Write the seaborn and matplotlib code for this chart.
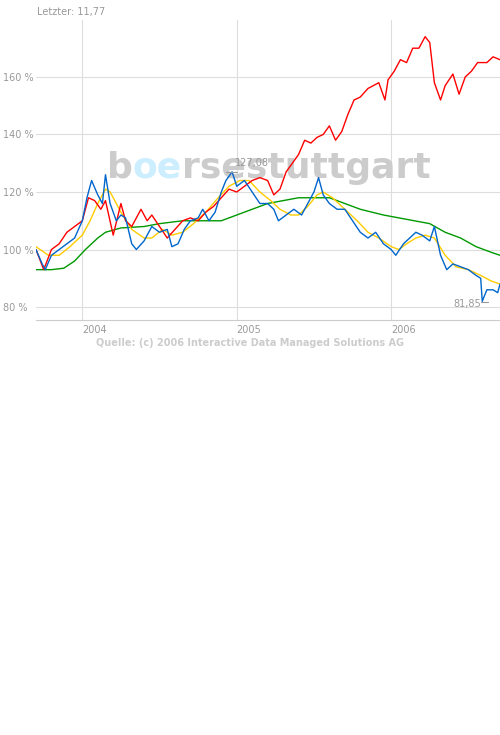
import numpy as np
import pandas as pd
import matplotlib
matplotlib.use("Agg")
import matplotlib.pyplot as plt
import seaborn as sns

blue_x = [2003.70, 2003.74, 2003.76, 2003.80, 2003.85, 2003.90, 2003.95, 2004.0, 2004.03, 2004.06,
          2004.10, 2004.13, 2004.15, 2004.18, 2004.22, 2004.25, 2004.28, 2004.32, 2004.35, 2004.40,
          2004.45, 2004.50, 2004.55, 2004.58, 2004.62, 2004.66, 2004.70, 2004.75, 2004.78, 2004.82,
          2004.86, 2004.90, 2004.93, 2004.97, 2005.00, 2005.05, 2005.10, 2005.15, 2005.20, 2005.24,
          2005.27, 2005.32, 2005.37, 2005.42, 2005.46, 2005.50, 2005.53, 2005.56, 2005.60, 2005.65,
          2005.70, 2005.75, 2005.80, 2005.85, 2005.90, 2005.95, 2006.00, 2006.03, 2006.08, 2006.12,
          2006.16, 2006.20, 2006.25, 2006.28, 2006.32, 2006.36, 2006.40, 2006.45, 2006.50, 2006.55,
          2006.58, 2006.59, 2006.62, 2006.66, 2006.69, 2006.705]
blue_y = [100, 95, 93, 98, 100, 102, 104, 110, 118, 124,
          119, 116, 126, 116, 110, 112, 111, 102, 100, 103,
          108, 106, 107, 101, 102, 107, 110, 111, 114, 110,
          113, 120, 124, 127, 122, 124, 120, 116, 116, 114,
          110, 112, 114, 112, 116, 120, 125, 119, 116, 114,
          114, 110, 106, 104, 106, 102, 100, 98, 102, 104,
          106, 105, 103, 108, 98, 93, 95, 94, 93, 91,
          90, 82, 86, 86, 85, 88]

red_x = [2003.70, 2003.75, 2003.80, 2003.85, 2003.90, 2003.95, 2004.0, 2004.04, 2004.08, 2004.12,
         2004.15, 2004.20, 2004.25, 2004.28, 2004.32, 2004.38, 2004.42, 2004.45, 2004.50, 2004.55,
         2004.60, 2004.65, 2004.70, 2004.75, 2004.80, 2004.85, 2004.90, 2004.95, 2005.00, 2005.05,
         2005.10, 2005.15, 2005.20, 2005.24, 2005.28, 2005.32, 2005.36, 2005.40, 2005.44, 2005.48,
         2005.52, 2005.56, 2005.60, 2005.64, 2005.68, 2005.72, 2005.76, 2005.80, 2005.85, 2005.92,
         2005.96, 2005.98, 2006.02, 2006.06, 2006.10, 2006.14, 2006.18, 2006.22, 2006.25, 2006.28,
         2006.32, 2006.35, 2006.40, 2006.44, 2006.48, 2006.52, 2006.56, 2006.62, 2006.66, 2006.705]
red_y = [100, 93, 100, 102, 106, 108, 110, 118, 117, 114,
         117, 105, 116, 110, 108, 114, 110, 112, 108, 104,
         107, 110, 111, 110, 113, 115, 118, 121, 120, 122,
         124, 125, 124, 119, 121, 127, 130, 133, 138, 137,
         139, 140, 143, 138, 141, 147, 152, 153, 156, 158,
         152, 159, 162, 166, 165, 170, 170, 174, 172, 158,
         152, 157, 161, 154, 160, 162, 165, 165, 167, 166]

yellow_x = [2003.70, 2003.78, 2003.85, 2003.92, 2004.0, 2004.05, 2004.10, 2004.15, 2004.18, 2004.25,
            2004.32, 2004.40, 2004.45, 2004.52, 2004.58, 2004.65, 2004.72, 2004.80, 2004.88, 2004.95,
            2005.02, 2005.08, 2005.15, 2005.22, 2005.28, 2005.35, 2005.40, 2005.46, 2005.52, 2005.56,
            2005.62, 2005.70, 2005.78, 2005.85, 2005.92, 2006.00, 2006.05, 2006.10, 2006.16, 2006.22,
            2006.28, 2006.35, 2006.42, 2006.50, 2006.58, 2006.65, 2006.705]
yellow_y = [101, 98, 98, 101, 105, 110, 116, 121, 120, 113,
            107, 104, 104, 107, 105, 106, 109, 113, 118, 122,
            124, 124, 120, 117, 114, 112, 112, 115, 119, 120,
            118, 114, 110, 106, 104, 101, 100, 102, 104, 105,
            104, 98, 94, 93, 91, 89, 88]

green_x = [2003.70, 2003.80, 2003.88, 2003.95, 2004.02, 2004.10, 2004.15, 2004.25, 2004.40, 2004.50,
           2004.65, 2004.80, 2004.90, 2005.00, 2005.10, 2005.20, 2005.30, 2005.40, 2005.50, 2005.60,
           2005.70, 2005.80, 2005.95, 2006.05, 2006.15, 2006.25, 2006.35, 2006.45, 2006.55, 2006.65, 2006.705]
green_y = [93, 93, 93.5, 96, 100, 104, 106, 107.5, 108, 109,
           110, 110, 110, 112, 114, 116, 117, 118, 118, 118,
           116, 114, 112, 111, 110, 109, 106, 104, 101, 99, 98]

year_ticks = [2004, 2005, 2006]
y_ticks = [80, 100, 120, 140, 160]

sns.set_style("white")
fig = plt.figure(figsize=(5, 7.35), dpi=100)
ax = fig.add_axes([36 / 500, 1 - 320 / 735, 464 / 500, 300 / 735])

grey = "#999999"
ax.set_xlim(2003.70, 2006.705)
ax.set_ylim(75.5, 179.8)
for v in y_ticks:
    ax.axhline(v, color="#dddddd", lw=0.8, zorder=0)
for v in year_ticks:
    ax.axvline(v, color="#dddddd", lw=0.8, zorder=0)

# watermark, drawn piece by piece behind the lines
renderer = fig.canvas.get_renderer()
xpos = 107 / 500
for part, col in [("b", "#cccccc"), ("oe", "#cceeff"), ("rsestuttgart", "#cccccc")]:
    t = ax.text(xpos, 1 - 168 / 735, part, color=col, fontsize=26, fontweight="bold",
                va="center", ha="left", transform=fig.transFigure, zorder=0.5)
    xpos += t.get_window_extent(renderer).width / fig.bbox.width

sns.lineplot(x=green_x, y=green_y, color="#009900", lw=1, ax=ax)
sns.lineplot(x=yellow_x, y=yellow_y, color="#ffcc00", lw=1, ax=ax)
sns.lineplot(x=red_x, y=red_y, color="#ff0000", lw=1, ax=ax)
sns.lineplot(x=blue_x, y=blue_y, color="#0066cc", lw=1, ax=ax)

# high / low markers
ax.plot([2004.93, 2005.00], [127.08, 127.08], color=grey, lw=0.8)
ax.text(2004.99, 128.5, "127,08", color=grey, fontsize=7, ha="left", va="bottom")
ax.plot([2006.58, 2006.63], [81.85, 81.85], color=grey, lw=0.8)
ax.text(2006.58, 81.0, "81,85", color=grey, fontsize=7, ha="right", va="center")

ax.set_yticks(y_ticks)
ax.set_yticklabels([f"{v} %" for v in y_ticks], ha="left")
ax.set_xticks(year_ticks)
ax.set_xticklabels([str(v) for v in year_ticks], ha="left")
ax.tick_params(axis="both", length=0, labelsize=7, labelcolor=grey)
ax.tick_params(axis="y", pad=24)
for s in ["top", "right", "left"]:
    ax.spines[s].set_visible(False)
ax.spines["bottom"].set_color("#cccccc")

fig.text(37 / 500, 1 - 12 / 735, "Letzter: 11,77", color=grey, fontsize=7, va="center")
fig.text(250 / 500, 1 - 343 / 735, "Quelle: (c) 2006 Interactive Data Managed Solutions AG",
         color="#cccccc", fontsize=7, fontweight="bold", ha="center", va="center")

fig.savefig("out.png", dpi=100)
